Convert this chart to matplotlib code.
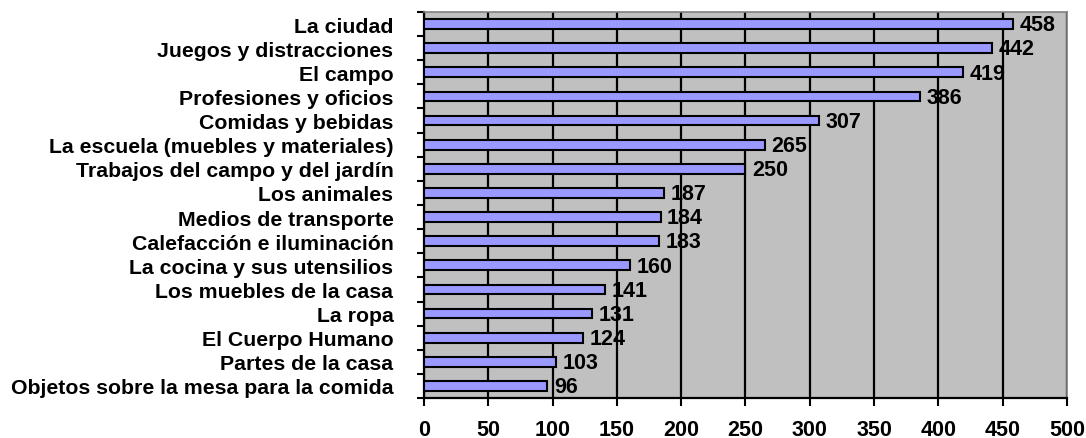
import numpy as np
from matplotlib import pyplot as plt
from matplotlib.ticker import MultipleLocator, FixedLocator

plt.rcParams["font.family"] = ["Liberation Sans", "DejaVu Sans"]
plt.rcParams["font.weight"] = "bold"

temas = ["La ciudad", "Juegos y distracciones", "El campo",
         "Profesiones y oficios", "Comidas y bebidas",
         "La escuela (muebles y materiales)",
         "Trabajos del campo y del jardín", "Los animales",
         "Medios de transporte", "Calefacción e iluminación",
         "La cocina y sus utensilios", "Los muebles de la casa",
         "La ropa", "El Cuerpo Humano", "Partes de la casa",
         "Objetos sobre la mesa para la comida"]
palabras = [458, 442, 419, 386, 307, 265, 250, 187, 184, 183,
            160, 141, 131, 124, 103, 96]

fig = plt.figure(figsize=(10.86, 4.39), dpi=100)
ax = fig.add_axes([0.3904, 0.0911, 0.5921, 0.8793])
ax.set_facecolor("#C0C0C0")

y = np.arange(len(temas))
ax.barh(y, palabras, height=0.4, color="#9999FF", edgecolor="black",
        linewidth=1.5, zorder=3)
for yi, v in zip(y, palabras):
    ax.text(v + 5, yi + 0.03, str(v), va="center", ha="left", fontsize=15.5,
            fontweight="bold", zorder=4)

ax.set_xlim(0, 500)
ax.set_ylim(len(temas) - 0.5, -0.5)
ax.xaxis.set_major_locator(MultipleLocator(50))
ax.grid(axis="x", color="black", linewidth=1.6, zorder=1)

ax.set_yticks(y)
ax.set_yticklabels(temas, fontsize=15.3, fontweight="bold")
ax.yaxis.set_minor_locator(FixedLocator(np.arange(-0.5, len(temas), 1.0)))
ax.tick_params(axis="y", which="major", length=0, pad=22)
ax.tick_params(axis="y", which="minor", length=5, width=1.5, direction="out")
ax.tick_params(axis="x", length=6, width=1.5, direction="out", pad=9,
               labelsize=15.5)
for lbl in ax.get_xticklabels():
    lbl.set_fontweight("bold")

for s in ("left", "bottom"):
    ax.spines[s].set_color("black")
    ax.spines[s].set_linewidth(1.6)
for s in ("top", "right"):
    ax.spines[s].set_color("#808080")
    ax.spines[s].set_linewidth(1.2)

fig.savefig("out.png", dpi=100)
